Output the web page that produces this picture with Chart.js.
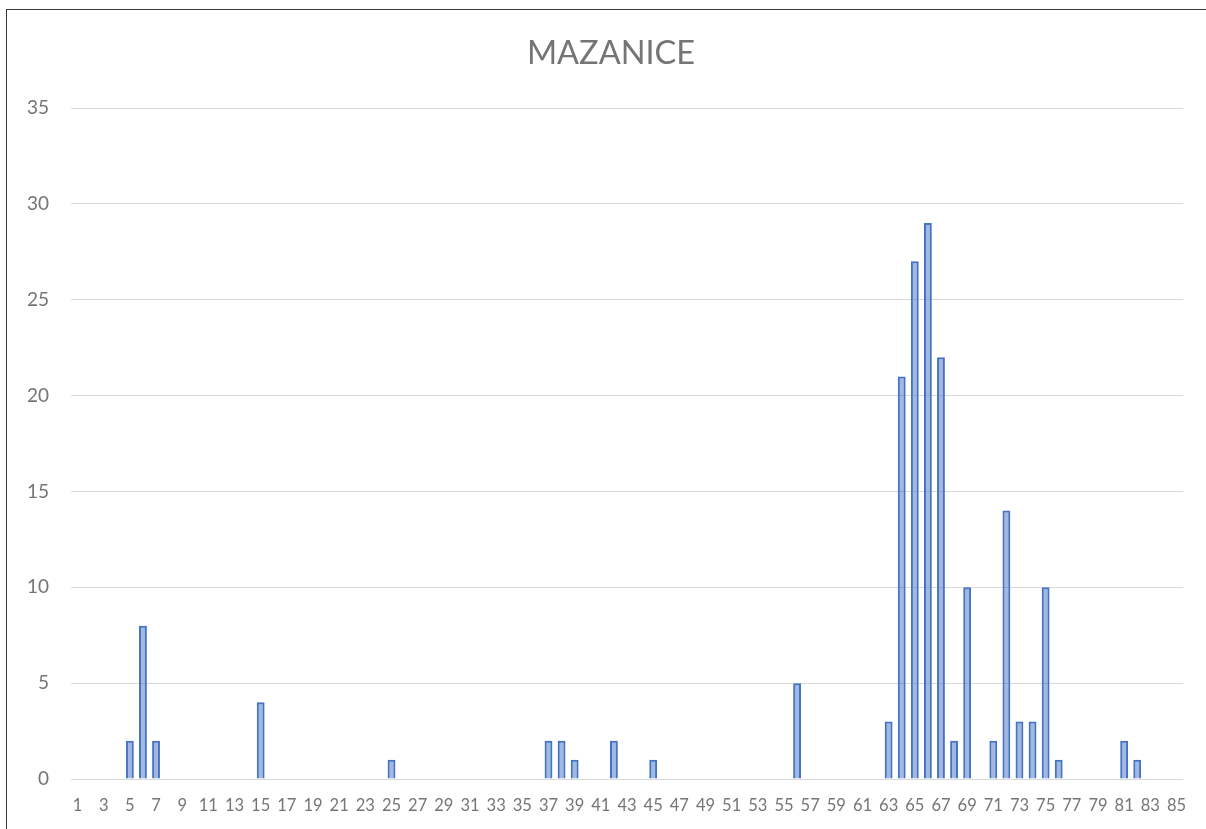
<!DOCTYPE html>
<html>
<head>
<meta charset="utf-8">
<script src="https://cdn.jsdelivr.net/npm/chart.js@4.4.0/dist/chart.umd.min.js"></script>
<style>
    html, body { margin: 0; padding: 0; background: #fff; overflow: hidden; }
    #frame {
        position: absolute;
        left: 6px;
        top: 9px;
        width: 1208px;
        height: 830px;
        border: 1px solid #3a3a3a;
        background: #fff;
    }
</style>
</head>
<body>
<div id="frame"><canvas id="myChart" width="1208" height="830"></canvas></div>
<script>
var categories = [
    1, 2, 3, 4, 5, 6, 7, 8, 9, 10,
    11, 12, 13, 14, 15, 16, 17, 18, 19, 20,
    21, 22, 23, 24, 25, 26, 27, 28, 29, 30,
    31, 32, 33, 34, 35, 36, 37, 38, 39, 40,
    41, 42, 43, 44, 45, 46, 47, 48, 49, 50,
    51, 52, 53, 54, 55, 56, 57, 58, 59, 60,
    61, 62, 63, 64, 65, 66, 67, 68, 69, 70,
    71, 72, 73, 74, 75, 76, 77, 78, 79, 80,
    81, 82, 83, 84, 85
];

var counts = [
    0, 0, 0, 0, 2, 8, 2, 0, 0, 0,
    0, 0, 0, 0, 4, 0, 0, 0, 0, 0,
    0, 0, 0, 0, 1, 0, 0, 0, 0, 0,
    0, 0, 0, 0, 0, 0, 2, 2, 1, 0,
    0, 2, 0, 0, 1, 0, 0, 0, 0, 0,
    0, 0, 0, 0, 0, 5, 0, 0, 0, 0,
    0, 0, 3, 21, 27, 29, 22, 2, 10, 0,
    2, 14, 3, 3, 10, 1, 0, 0, 0, 0,
    2, 1, 0, 0, 0
];

var yTicks = [0, 5, 10, 15, 20, 25, 30, 35];

window.onload = function() {
    var ctx = document.getElementById('myChart').getContext('2d');

    var myChart = new Chart(ctx, {
        type: 'bar',
        data: {
            labels: categories,
            datasets: [{
                label: 'MAZANICE',
                data: counts,
                backgroundColor: 'rgba(68, 114, 196, 0.5)',
                borderColor: '#4472C4',
                borderWidth: 2,
                barPercentage: 0.6,
                categoryPercentage: 1.0
            }]
        },
        options: {
            responsive: false,
            animation: false,
            layout: {
                padding: 0
            },
            plugins: {
                legend: { display: false },
                tooltip: { enabled: false },
                title: {
                    display: true,
                    text: 'MAZANICE',
                    color: '#757575',
                    font: { family: 'Lato', size: 32.5, weight: 'normal' },
                    padding: { top: 24, bottom: 35 }
                }
            },
            scales: {
                y: {
                    min: 0,
                    max: 35,
                    border: { display: false },
                    grid: {
                        color: '#d9d9d9',
                        lineWidth: 1,
                        drawTicks: false
                    },
                    afterBuildTicks: function(axis) {
                        axis.ticks = yTicks.map(v => ({ value: v }));
                    },
                    afterFit: function(axis) {
                        axis.width = 64;
                    },
                    ticks: {
                        color: '#757575',
                        padding: 22,
                        font: { family: 'Lato', size: 19 }
                    }
                },
                // empty margin on the right so the title stays centred on the frame
                yRight: {
                    position: 'right',
                    min: 0,
                    max: 35,
                    border: { display: false },
                    grid: { display: false },
                    ticks: { display: false },
                    afterFit: function(axis) {
                        axis.width = 32;
                    }
                },
                x: {
                    border: { display: false },
                    grid: { display: false },
                    afterFit: function(axis) {
                        axis.height = 61;
                    },
                    ticks: {
                        color: '#757575',
                        autoSkip: false,
                        maxRotation: 0,
                        padding: 9,
                        font: { family: 'Lato', size: 16.5 },
                        callback: function(value, index) {
                            return index % 2 === 0 ? categories[index] : '';
                        }
                    }
                }
            }
        }
    });
};
</script>
</body>
</html>
